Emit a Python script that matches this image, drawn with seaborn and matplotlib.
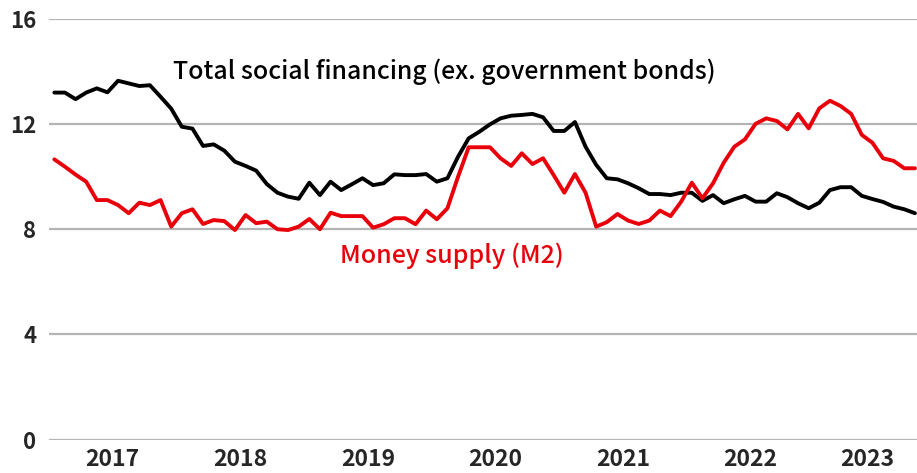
import matplotlib
matplotlib.use("Agg")
import matplotlib.pyplot as plt
import seaborn as sns
import pandas as pd
import numpy as np

# Monthly data, Jan 2017 - Oct 2023 (year-on-year growth, %)
tsf = [13.20, 13.20, 12.95, 13.20, 13.36, 13.21, 13.65, 13.55, 13.45, 13.48, 13.04, 12.59,
       11.90, 11.83, 11.17, 11.23, 10.99, 10.57, 10.41, 10.23, 9.72, 9.39, 9.24, 9.16,
       9.77, 9.30, 9.81, 9.49, 9.71, 9.94, 9.68, 9.75, 10.09, 10.06, 10.06, 10.10,
       9.81, 9.94, 10.76, 11.46, 11.71, 11.99, 12.22, 12.32, 12.35, 12.39, 12.26, 11.74,
       11.74, 12.08, 11.14, 10.45, 9.94, 9.90, 9.75, 9.56, 9.34, 9.34, 9.30, 9.39,
       9.39, 9.08, 9.30, 8.99, 9.14, 9.27, 9.05, 9.05, 9.37, 9.22, 8.99, 8.80,
       9.01, 9.49, 9.60, 9.60, 9.27, 9.15, 9.04, 8.86, 8.76, 8.61]
m2 = [10.66, 10.38, 10.08, 9.81, 9.11, 9.11, 8.92, 8.61, 9.01, 8.92, 9.11, 8.10,
      8.61, 8.76, 8.20, 8.35, 8.31, 7.97, 8.54, 8.23, 8.29, 8.00, 7.97, 8.10,
      8.39, 8.00, 8.63, 8.50, 8.50, 8.50, 8.06, 8.19, 8.42, 8.42, 8.19, 8.71,
      8.38, 8.80, 10.00, 11.12, 11.12, 11.12, 10.70, 10.41, 10.89, 10.48, 10.70, 10.06,
      9.39, 10.10, 9.39, 8.10, 8.27, 8.58, 8.33, 8.20, 8.33, 8.71, 8.50, 9.05,
      9.77, 9.18, 9.75, 10.53, 11.14, 11.42, 12.01, 12.22, 12.12, 11.80, 12.39, 11.84,
      12.60, 12.89, 12.69, 12.39, 11.59, 11.29, 10.70, 10.60, 10.32, 10.32]
years = ["2017", "2018", "2019", "2020", "2021", "2022", "2023"]
months_in_year = [12, 12, 12, 12, 12, 12, 10]
yticks = [0, 4, 8, 12, 16]
label_tsf = "Total social financing (ex. government bonds)"
label_m2 = "Money supply (M2)"

sns.set_theme(style="white")
plt.rcParams["font.family"] = ["Noto Sans CJK JP", "DejaVu Sans"]

n = len(tsf)
df = pd.DataFrame({
    "month": list(range(n)) * 2,
    "value": tsf + m2,
    "series": [label_tsf] * n + [label_m2] * n,
})

fig = plt.figure(figsize=(9.17, 4.73), dpi=100)
W, H = 917, 473
ax = fig.add_axes([49 / W, (473 - 439.5) / H, 871.25 / W, 420.5 / H])

sns.lineplot(data=df, x="month", y="value", hue="series",
             palette={label_tsf: "#000000", label_m2: "#e8000b"},
             linewidth=2.8, legend=False, ax=ax)

ax.set_xlim(-0.5, n - 0.5)
ax.set_ylim(0, 16)
ax.set_yticks(yticks)
ax.set_yticklabels([str(t) for t in yticks], fontsize=16, fontweight="semibold")
ax.yaxis.grid(True, color="#b4b4b4", linewidth=1.6)
ax.xaxis.grid(False)
ax.set_axisbelow(True)
for s in ax.spines.values():
    s.set_visible(False)

# year labels centred on each year's span of months
centers = []
start = 0
for m in months_in_year:
    centers.append(start + (m - 1) / 2)
    start += m
ax.set_xticks(centers)
ax.set_xticklabels(years, fontsize=16.5, fontweight="semibold")
ax.tick_params(axis="y", length=0, pad=9)
ax.tick_params(axis="x", length=0, pad=6)
ax.set_xlabel("")
ax.set_ylabel("")

ax.text(11.2, 13.98, label_tsf, fontsize=17.9, fontweight="medium",
        color="#000000", ha="left", va="center")
ax.text(26.9, 7.0, label_m2, fontsize=18, fontweight="medium",
        color="#e8000b", ha="left", va="center")

fig.savefig("out.png", dpi=100)
